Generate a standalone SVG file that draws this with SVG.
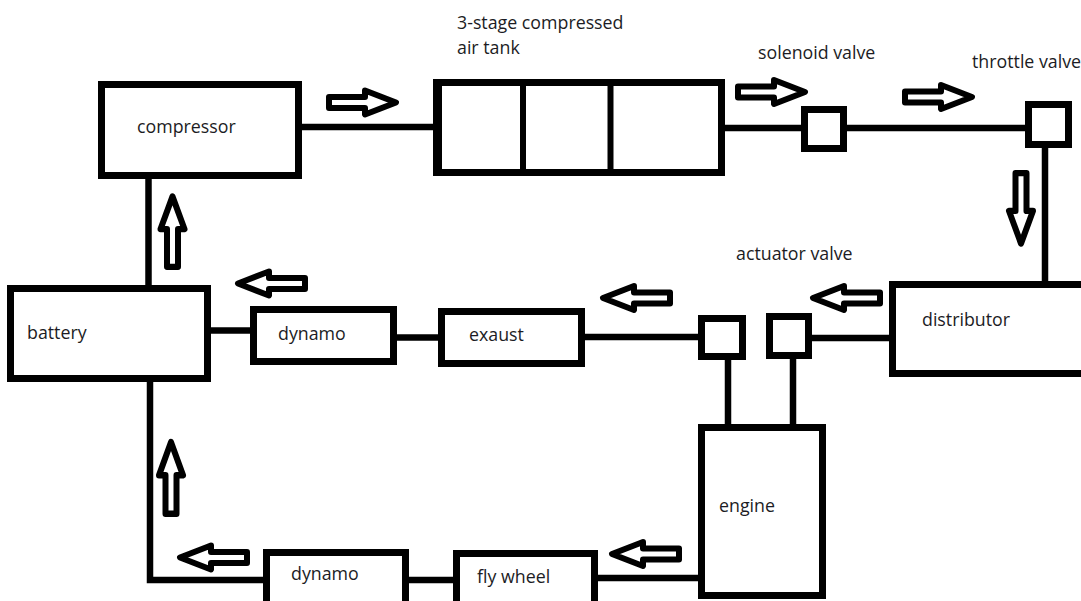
<svg xmlns="http://www.w3.org/2000/svg" xmlns:xlink="http://www.w3.org/1999/xlink" width="1081" height="601" viewBox="0 0 1081 601">
<style>
.box{fill:#fff;stroke:#000;stroke-width:7}
.ln{stroke:#000;stroke-width:6.5;fill:none}
.arr{fill:#fff;stroke:#000;stroke-width:6;stroke-linejoin:round}
text{font-family:"Open Sans","Liberation Sans",sans-serif;font-size:17.8px;fill:#1c1c24}
</style>
<defs>
<path id="arrow" class="arr" d="M3,-5.5 H39 V-12 L70,0 L39,12 V5.5 H3 Z"/>
</defs>
<rect width="1081" height="601" fill="#fff"/>
<g id="connectors">
<path class="ln" d="M302,127 H434"/>
<path class="ln" d="M725,128 H802"/>
<path class="ln" d="M847,128 H1026"/>
<path class="ln" d="M1045,148 V285"/>
<path class="ln" d="M812,338 H890"/>
<path class="ln" d="M585,337 H699"/>
<path class="ln" d="M397,337.5 H439"/>
<path class="ln" d="M211,330.5 H251"/>
<path class="ln" d="M148.5,179 V286"/>
<path class="ln" d="M150,382 V580 H264"/>
<path class="ln" d="M409,580 H454"/>
<path class="ln" d="M598,578 H699"/>
<path class="ln" d="M728,360 V425"/>
<path class="ln" d="M793,359 V425"/>
<use xlink:href="#arrow" transform="translate(326,102.5)"/>
<use xlink:href="#arrow" transform="translate(735,92)"/>
<use xlink:href="#arrow" transform="translate(902,97)"/>
<use xlink:href="#arrow" transform="translate(1021,170) rotate(90) scale(1.05,1)"/>
<use xlink:href="#arrow" transform="translate(883,298) scale(-1,1)"/>
<use xlink:href="#arrow" transform="translate(673,298) scale(-1,1)"/>
<use xlink:href="#arrow" transform="translate(308,283.5) scale(-1,1)"/>
<use xlink:href="#arrow" transform="translate(172.5,270) rotate(-90) scale(1.05,1)"/>
<use xlink:href="#arrow" transform="translate(171,517) rotate(-90) scale(1.07,1)"/>
<use xlink:href="#arrow" transform="translate(250,557.5) scale(-1,1)"/>
<use xlink:href="#arrow" transform="translate(682,554) scale(-1,1)"/>
</g>
<g id="compressor">
<rect class="box" x="101.5" y="84.5" width="197" height="91"/>
<text x="137" y="133">compressor</text>
</g>
<g id="tank">
<rect class="box" x="437" y="82.5" width="284.5" height="90"/>
<path class="ln" d="M437.5,79 V176" style="stroke-width:9"/>
<path class="ln" d="M523,82 V172" style="stroke-width:6"/>
<path class="ln" d="M610.5,82 V172" style="stroke-width:6"/>
<text x="457" y="29">3-stage compressed</text>
<text x="457" y="54">air tank</text>
</g>
<g id="solenoid-valve">
<rect class="box" x="804.5" y="109.5" width="39" height="39"/>
<text x="758" y="59">solenoid valve</text>
</g>
<g id="throttle-valve">
<rect class="box" x="1028.5" y="104.5" width="40" height="40"/>
<text x="972" y="68">throttle valve</text>
</g>
<g id="distributor">
<rect class="box" x="892.5" y="284.5" width="200" height="89"/>
<text x="922" y="326">distributor</text>
</g>
<g id="actuator-valve">
<rect class="box" x="701.5" y="318.5" width="41" height="38"/>
<rect class="box" x="769.5" y="316.5" width="39" height="39"/>
<text x="736" y="260">actuator valve</text>
</g>
<g id="exaust">
<rect class="box" x="441.5" y="311.5" width="140" height="52"/>
<text x="469" y="341">exaust</text>
</g>
<g id="dynamo1">
<rect class="box" x="253.5" y="309.5" width="140" height="52"/>
<text x="278" y="340">dynamo</text>
</g>
<g id="battery">
<rect class="box" x="10.5" y="288.5" width="197" height="90"/>
<text x="27" y="339">battery</text>
</g>
<g id="engine">
<rect class="box" x="701.5" y="427.5" width="121" height="168"/>
<text x="719" y="512">engine</text>
</g>
<g id="dynamo2">
<rect class="box" x="266.5" y="552.5" width="139" height="60"/>
<text x="291" y="580">dynamo</text>
</g>
<g id="flywheel">
<rect class="box" x="456.5" y="553.5" width="138" height="60"/>
<text x="477" y="583">fly wheel</text>
</g>
</svg>
